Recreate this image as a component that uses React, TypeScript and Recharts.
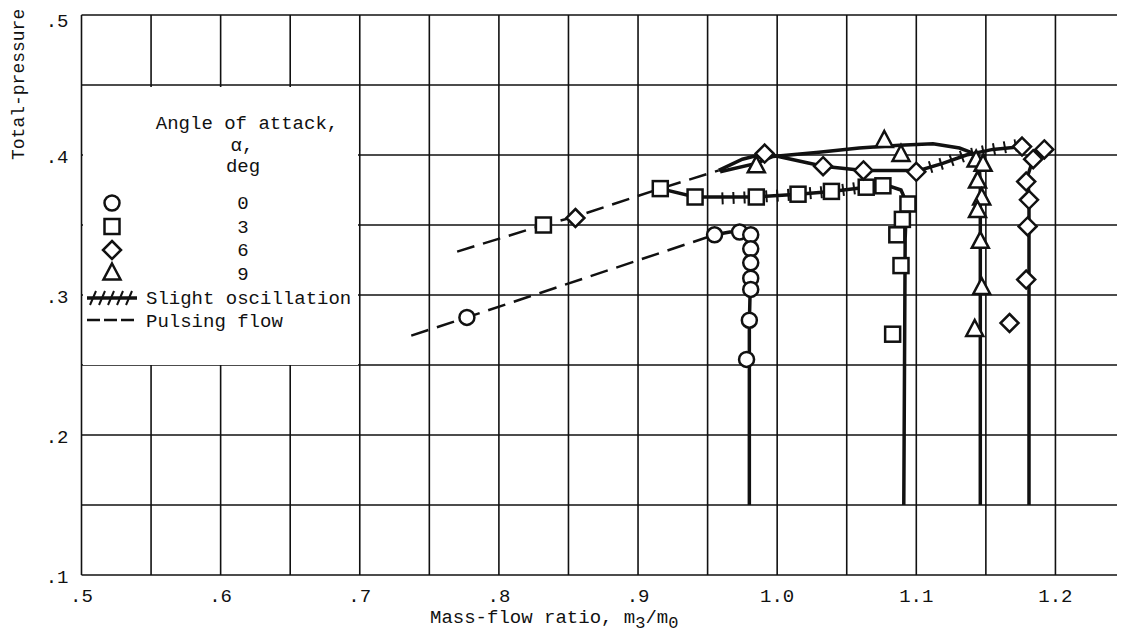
import { CartesianGrid, ComposedChart, Line, Scatter, XAxis, YAxis } from 'recharts';

const xTicks = [0.5, 0.55, 0.6, 0.65, 0.7, 0.75, 0.8, 0.85, 0.9, 0.95, 1.0, 1.05, 1.1, 1.15, 1.2, 1.25];
const yTicks = [0.1, 0.15, 0.2, 0.25, 0.3, 0.35, 0.4, 0.45, 0.5];

// measured points by angle of attack (deg)
const alpha0 = [
  { x: 0.777, y: 0.284 },
  { x: 0.955, y: 0.343 },
  { x: 0.973, y: 0.345 },
  { x: 0.981, y: 0.343 },
  { x: 0.981, y: 0.333 },
  { x: 0.981, y: 0.323 },
  { x: 0.981, y: 0.312 },
  { x: 0.981, y: 0.304 },
  { x: 0.98, y: 0.282 },
  { x: 0.978, y: 0.254 },
];
const alpha3 = [
  { x: 0.832, y: 0.35 },
  { x: 0.916, y: 0.376 },
  { x: 0.941, y: 0.37 },
  { x: 0.985, y: 0.37 },
  { x: 1.015, y: 0.372 },
  { x: 1.039, y: 0.374 },
  { x: 1.064, y: 0.377 },
  { x: 1.076, y: 0.378 },
  { x: 1.094, y: 0.365 },
  { x: 1.09, y: 0.354 },
  { x: 1.086, y: 0.343 },
  { x: 1.089, y: 0.321 },
  { x: 1.083, y: 0.272 },
];
const alpha6 = [
  { x: 0.855, y: 0.355 },
  { x: 0.991, y: 0.401 },
  { x: 1.033, y: 0.392 },
  { x: 1.062, y: 0.389 },
  { x: 1.1, y: 0.388 },
  { x: 1.176, y: 0.406 },
  { x: 1.192, y: 0.404 },
  { x: 1.184, y: 0.397 },
  { x: 1.179, y: 0.381 },
  { x: 1.181, y: 0.368 },
  { x: 1.18, y: 0.349 },
  { x: 1.179, y: 0.311 },
  { x: 1.167, y: 0.28 },
];
const alpha9 = [
  { x: 0.985, y: 0.392 },
  { x: 1.077, y: 0.41 },
  { x: 1.089, y: 0.4 },
  { x: 1.143, y: 0.396 },
  { x: 1.148, y: 0.393 },
  { x: 1.144, y: 0.381 },
  { x: 1.147, y: 0.369 },
  { x: 1.144, y: 0.36 },
  { x: 1.146, y: 0.338 },
  { x: 1.147, y: 0.305 },
  { x: 1.142, y: 0.275 },
];

// faired curves
const curve0 = [
  { x: 0.955, y: 0.343 },
  { x: 0.966, y: 0.345 },
  { x: 0.976, y: 0.345 },
  { x: 0.981, y: 0.341 },
  { x: 0.981, y: 0.32 },
  { x: 0.98, y: 0.28 },
  { x: 0.98, y: 0.15 },
];
const curve3 = [
  { x: 0.916, y: 0.376 },
  { x: 0.941, y: 0.37 },
  { x: 0.985, y: 0.37 },
  { x: 1.015, y: 0.372 },
  { x: 1.039, y: 0.374 },
  { x: 1.064, y: 0.377 },
  { x: 1.08, y: 0.378 },
  { x: 1.089, y: 0.375 },
  { x: 1.093, y: 0.366 },
  { x: 1.092, y: 0.34 },
  { x: 1.091, y: 0.15 },
];
const hatch3 = [
  { x: 0.96, y: 0.369 },
  { x: 0.985, y: 0.37 },
  { x: 1.015, y: 0.372 },
  { x: 1.039, y: 0.374 },
  { x: 1.062, y: 0.377 },
];
const curve6 = [
  { x: 0.958, y: 0.389 },
  { x: 0.975, y: 0.397 },
  { x: 0.991, y: 0.401 },
  { x: 1.01, y: 0.397 },
  { x: 1.033, y: 0.392 },
  { x: 1.062, y: 0.389 },
  { x: 1.102, y: 0.389 },
  { x: 1.119, y: 0.394 },
  { x: 1.136, y: 0.4 },
  { x: 1.155, y: 0.404 },
  { x: 1.176, y: 0.406 },
];
const hatch6 = [
  { x: 1.102, y: 0.389 },
  { x: 1.119, y: 0.394 },
  { x: 1.136, y: 0.4 },
  { x: 1.155, y: 0.404 },
  { x: 1.172, y: 0.407 },
];
const column6 = [
  { x: 1.192, y: 0.404 },
  { x: 1.184, y: 0.397 },
  { x: 1.18, y: 0.385 },
  { x: 1.181, y: 0.37 },
  { x: 1.181, y: 0.15 },
];
const curve9 = [
  { x: 0.959, y: 0.388 },
  { x: 0.985, y: 0.394 },
  { x: 0.997, y: 0.399 },
  { x: 1.03, y: 0.402 },
  { x: 1.059, y: 0.405 },
  { x: 1.088, y: 0.407 },
  { x: 1.112, y: 0.408 },
  { x: 1.131, y: 0.405 },
  { x: 1.139, y: 0.402 },
  { x: 1.145, y: 0.396 },
  { x: 1.146, y: 0.38 },
  { x: 1.146, y: 0.15 },
];
const pulsingUpper = [
  { x: 0.77, y: 0.331 },
  { x: 0.832, y: 0.35 },
  { x: 0.855, y: 0.356 },
  { x: 0.916, y: 0.376 },
  { x: 0.958, y: 0.389 },
];
const pulsingLower = [
  { x: 0.737, y: 0.271 },
  { x: 0.777, y: 0.284 },
  { x: 0.955, y: 0.343 },
];

const ink = '#111';
const font = '"Liberation Mono", "DejaVu Sans Mono", monospace';

const fmt = (v: number) => {
  if (Math.abs(v * 10 - Math.round(v * 10)) > 1e-6) return '';
  return v < 1 ? '.' + Math.round(v * 10) : v.toFixed(1);
};

const XTick = (p: any) => (
  <text x={p.x} y={p.y + 19} textAnchor="middle" fontFamily={font} fontSize={19} fill={ink}>
    {fmt(p.payload.value)}
  </text>
);

// top label sits a little lower in the original
const YTick = (p: any) => (
  <text x={p.x - 5} y={p.y + (p.payload.value >= 0.5 ? 12 : 8)} textAnchor="end" fontFamily={font} fontSize={19} fill={ink}>
    {fmt(p.payload.value)}
  </text>
);

const CircleMark = ({ cx, cy }: any) => (
  <circle cx={cx} cy={cy} r={7.5} fill="#fff" stroke={ink} strokeWidth={2.5} />
);
const SquareMark = ({ cx, cy }: any) => (
  <rect x={cx - 7.5} y={cy - 7.5} width={15} height={15} fill="#fff" stroke={ink} strokeWidth={2.5} />
);
const DiamondMark = ({ cx, cy }: any) => (
  <path d={`M${cx},${cy - 9}L${cx + 9},${cy}L${cx},${cy + 9}L${cx - 9},${cy}Z`} fill="#fff" stroke={ink} strokeWidth={2.5} />
);
const TriangleMark = ({ cx, cy }: any) => (
  <path d={`M${cx},${cy - 10}L${cx + 8.5},${cy + 6}L${cx - 8.5},${cy + 6}Z`} fill="#fff" stroke={ink} strokeWidth={2.5} />
);

function LegendBox() {
  const rows = [
    { label: '0', Mark: CircleMark },
    { label: '3', Mark: SquareMark },
    { label: '6', Mark: DiamondMark },
    { label: '9', Mark: TriangleMark },
  ];
  return (
    <svg
      width={275}
      height={278}
      style={{ position: 'absolute', left: 75, top: 79, background: '#fff' }}
      fontFamily={font}
      fontSize={19}
      fill={ink}
    >
      <text x={164} y={42} textAnchor="middle">Angle of attack,</text>
      <text x={159} y={64} textAnchor="middle">α,</text>
      <text x={160} y={85} textAnchor="middle">deg</text>
      {rows.map((r, i) => (
        <g key={r.label}>
          <r.Mark cx={29} cy={116 + i * 23.5} />
          <text x={160} y={122 + i * 23.5} textAnchor="middle">{r.label}</text>
        </g>
      ))}
      <line x1={4} y1={211} x2={54} y2={211} stroke={ink} strokeWidth={3.5} />
      {[10, 19, 28, 37, 46].map((t) => (
        <line key={t} x1={t - 3} y1={218} x2={t + 3} y2={204} stroke={ink} strokeWidth={2} />
      ))}
      <text x={63} y={217}>Slight oscillation</text>
      <line x1={4} y1={233} x2={54} y2={233} stroke={ink} strokeWidth={2.5} strokeDasharray="13 4" />
      <text x={63} y={240}>Pulsing flow</text>
    </svg>
  );
}

const XLabel = () => (
  <text x={422} y={615} fontFamily={font} fontSize={19} fill={ink}>
    Mass-flow ratio, m
    <tspan dy={5} fontSize={17}>3</tspan>
    <tspan dy={-5}>/m</tspan>
    <tspan dy={5} fontSize={17}>0</tspan>
  </text>
);

const YLabel = () => (
  <text
    x={0}
    y={0}
    transform="translate(16,152) rotate(-90)"
    fontFamily={font}
    fontSize={18}
    fill={ink}
  >
    Total-pressure
  </text>
);

export default function App() {
  const solid = { stroke: ink, strokeWidth: 3.5, dot: false, activeDot: false, isAnimationActive: false, type: 'linear' as const };
  return (
    <div style={{ position: 'relative', width: 1117, height: 627, fontFamily: font }}>
      <ComposedChart width={1117} height={627} margin={{ top: 7, right: 0, bottom: 0, left: 0 }}>
        <CartesianGrid stroke={ink} strokeWidth={1.6} strokeDasharray="" />
        <XAxis
          dataKey="x"
          type="number"
          domain={[0.5, 1.25]}
          ticks={xTicks}
          allowDataOverflow
          axisLine={false}
          tickLine={false}
          height={60}
          tick={<XTick />}
          interval={0}
          label={<XLabel />}
        />
        <YAxis
          dataKey="y"
          type="number"
          domain={[0.1, 0.5]}
          ticks={yTicks}
          allowDataOverflow
          axisLine={false}
          tickLine={false}
          width={73.5}
          tick={<YTick />}
          interval={0}
          label={<YLabel />}
        />
        <Line data={pulsingUpper} dataKey="y" {...solid} strokeWidth={2.5} strokeDasharray="18 9" />
        <Line data={pulsingLower} dataKey="y" {...solid} strokeWidth={2.5} strokeDasharray="18 9" />
        <Line data={curve0} dataKey="y" {...solid} />
        <Line data={curve3} dataKey="y" {...solid} />
        <Line data={hatch3} dataKey="y" {...solid} strokeWidth={12} strokeDasharray="2 9" />
        <Line data={curve6} dataKey="y" {...solid} />
        <Line data={hatch6} dataKey="y" {...solid} strokeWidth={12} strokeDasharray="2 9" />
        <Line data={column6} dataKey="y" {...solid} />
        <Line data={curve9} dataKey="y" {...solid} />
        <Scatter data={alpha0} dataKey="y" shape={<CircleMark />} isAnimationActive={false} />
        <Scatter data={alpha3} dataKey="y" shape={<SquareMark />} isAnimationActive={false} />
        <Scatter data={alpha6} dataKey="y" shape={<DiamondMark />} isAnimationActive={false} />
        <Scatter data={alpha9} dataKey="y" shape={<TriangleMark />} isAnimationActive={false} />
      </ComposedChart>
      <LegendBox />
    </div>
  );
}
